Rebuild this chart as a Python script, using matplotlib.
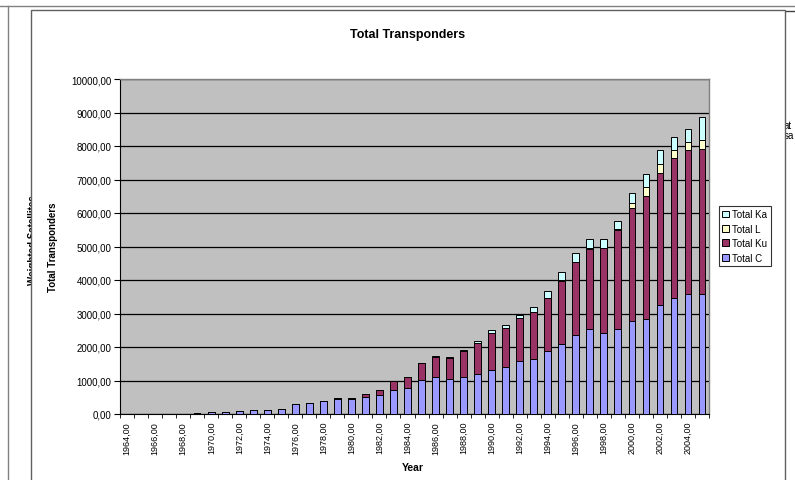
import matplotlib

matplotlib.use("Agg")

import matplotlib.pyplot as plt
from matplotlib.patches import Rectangle
from matplotlib.lines import Line2D
from matplotlib.ticker import FuncFormatter, FixedLocator
import numpy as np

plt.rcParams["font.family"] = ["Liberation Sans", "DejaVu Sans"]

years = list(range(1964, 2006))
total_c = [0, 0, 0, 10, 10, 40, 50, 50, 80, 110, 120, 150, 290, 340, 380, 440,
           460, 520, 580, 720, 780, 1020, 1090, 1030, 1090, 1180, 1310, 1410,
           1570, 1650, 1890, 2080, 2360, 2550, 2430, 2540, 2790, 2850, 3250,
           3450, 3570, 3590]
total_ku = [0, 0, 0, 0, 0, 0, 0, 0, 0, 0, 0, 0, 0, 0, 10, 30,
            30, 70, 140, 260, 310, 500, 620, 640, 780, 930, 1120, 1160,
            1300, 1400, 1580, 1900, 2170, 2380, 2520, 2950, 3360, 3650, 3950,
            4180, 4300, 4330]
total_l = [0] * 31 + [20, 20, 20, 20, 20, 140, 270, 270, 250, 240, 250]
total_ka = [0] * 20 + [10, 10, 20, 30, 40, 80, 90, 100, 100, 130, 190, 230,
                       270, 280, 260, 240, 300, 390, 400, 380, 390, 690]
year_labels = [f"{y},00" for y in years]

COLOR_C = "#9999FF"
COLOR_KU = "#993366"
COLOR_L = "#FFFFCC"
COLOR_KA = "#CCFFFF"

W, H = 795, 481
fig = plt.figure(figsize=(W / 100, H / 100), dpi=100)
fig.patch.set_facecolor("white")


def fx(px):
    return px / W


def fy(py):
    return 1 - py / H


# sheet lines and text partly hidden behind the chart
fig.add_artist(Line2D([0, 1], [fy(7), fy(7)], color="#808080", lw=1, zorder=1))
fig.add_artist(Line2D([fx(8), fx(8)], [fy(7), 0], color="#808080", lw=1, zorder=1))
fig.add_artist(Line2D([fx(785), 1], [fy(12), fy(12)], color="#404040", lw=1, zorder=1))
fig.text(fx(27.5), fy(240), "Weighted Satellites", rotation=90, fontsize=7,
         fontweight="bold", ha="left", va="center", zorder=1)
fig.text(fx(784), fy(126), "at", fontsize=7, ha="left", va="center", zorder=1)
fig.text(fx(784), fy(136), "sa", fontsize=7, ha="left", va="center", zorder=1)

# chart area box
fig.add_artist(Rectangle((fx(31), -0.01), fx(785) - fx(31), fy(11) + 0.01,
                         facecolor="white", edgecolor="#606060", lw=1,
                         zorder=2))

ax = fig.add_axes([fx(120), fy(415), fx(709) - fx(120), fy(80) - fy(415)])
ax.set_zorder(5)
ax.set_facecolor("#C0C0C0")

x = np.arange(len(years))
c = np.array(total_c, dtype=float)
ku = np.array(total_ku, dtype=float)
lb = np.array(total_l, dtype=float)
ka = np.array(total_ka, dtype=float)

bw = 0.48
ax.bar(x, c, bw, color=COLOR_C, edgecolor="black", lw=0.7, label="Total C", zorder=3)
ax.bar(x, ku, bw, bottom=c, color=COLOR_KU, edgecolor="black", lw=0.7,
       label="Total Ku", zorder=3)
ax.bar(x, lb, bw, bottom=c + ku, color=COLOR_L, edgecolor="black", lw=0.7,
       label="Total L", zorder=3)
ax.bar(x, ka, bw, bottom=c + ku + lb, color=COLOR_KA, edgecolor="black", lw=0.7,
       label="Total Ka", zorder=3)

ax.set_xlim(-0.5, len(years) - 0.5)
ax.set_ylim(0, 10000)
ax.set_yticks(np.arange(0, 10001, 1000))
ax.yaxis.set_major_formatter(FuncFormatter(lambda v, _: f"{v:.2f}".replace(".", ",")))
ax.grid(axis="y", color="black", lw=0.9, zorder=1)
ax.set_axisbelow(True)

ax.xaxis.set_major_locator(FixedLocator(x[::2]))
ax.set_xticklabels(year_labels[::2], rotation=90, fontsize=6.5)
ax.xaxis.set_minor_locator(FixedLocator(np.arange(-0.5, len(years), 1)))
ax.tick_params(axis="x", which="major", length=0, pad=5)
ax.tick_params(axis="x", which="minor", length=3, direction="out", color="black")
ax.tick_params(axis="y", labelsize=7, length=4, direction="out", color="black", pad=2)

for side in ["top", "right"]:
    ax.spines[side].set_color("#808080")
    ax.spines[side].set_linewidth(1)
ax.spines["left"].set_color("black")
ax.spines["bottom"].set_color("black")

fig.text(fx(408), fy(35), "Total Transponders", fontsize=9, fontweight="bold",
         ha="center", va="center", zorder=10)
fig.text(fx(53), fy(247), "Total Transponders", rotation=90, fontsize=7,
         fontweight="bold", ha="center", va="center", zorder=10)
fig.text(fx(413), fy(468), "Year", fontsize=7.5, fontweight="bold",
         ha="center", va="center", zorder=10)

handles, labels = ax.get_legend_handles_labels()
leg = fig.legend(handles[::-1], labels[::-1], loc="upper left",
                 bbox_to_anchor=(fx(719), fy(207)), fontsize=7,
                 frameon=True, fancybox=False, shadow=False, edgecolor="black",
                 handlelength=0.7, handleheight=0.7, handletextpad=0.3,
                 labelspacing=0.45, borderpad=0.35, borderaxespad=0)
leg.get_frame().set_linewidth(0.8)
leg.set_zorder(10)

fig.savefig("out.png", dpi=100, facecolor="white")
